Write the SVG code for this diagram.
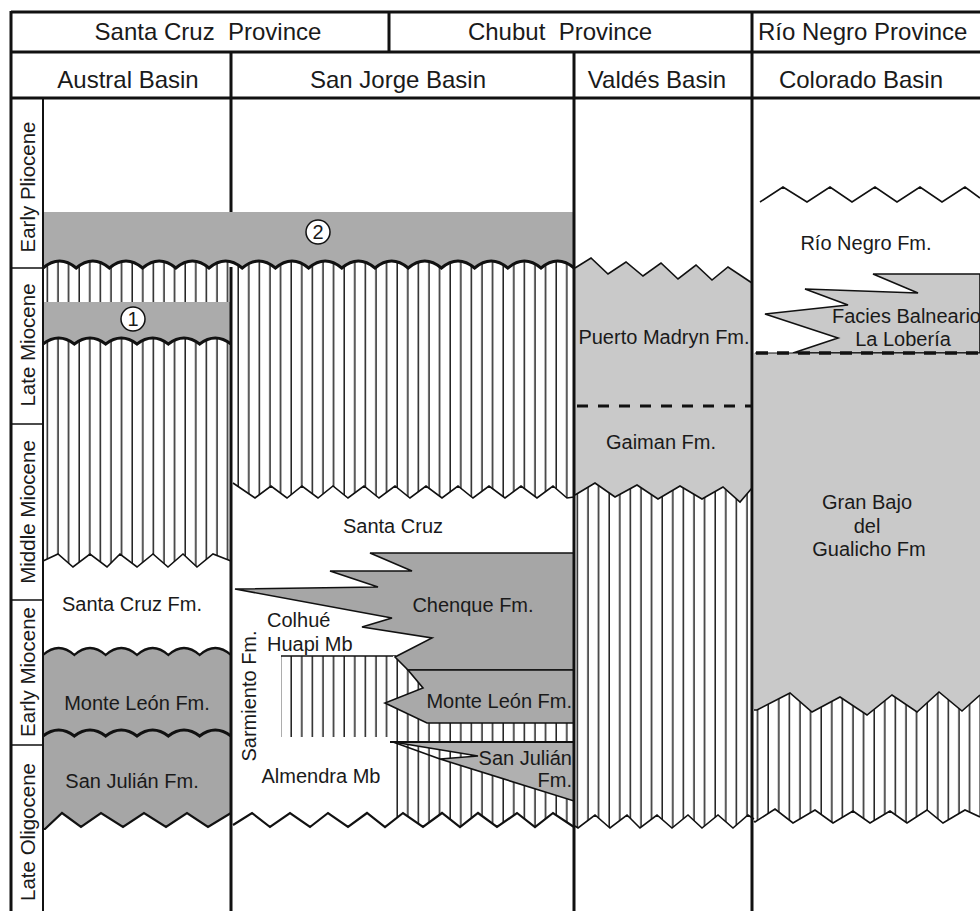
<svg xmlns="http://www.w3.org/2000/svg" width="980" height="911" viewBox="0 0 980 911">
<style>
.t{font-family:"Liberation Sans",Arial,sans-serif;font-size:20px;fill:#1a1a1a}
.h{font-size:24px}
.p{font-size:20.5px}
.ln{stroke:#111;fill:none}
.thick{stroke-width:3}
.med{stroke-width:2.2}
.thin{stroke-width:1.6}
.g1{fill:#ababab}
.g2{fill:#a6a6a6}
.g3{fill:#c9c9c9}
.hat{fill:url(#hatch)}
</style>
<defs>
<pattern id="hatch" patternUnits="userSpaceOnUse" width="10.6" height="20">
<rect width="10.6" height="20" fill="#fff"/>
<line x1="5" y1="0" x2="5" y2="20" stroke="#111" stroke-width="1.4"/>
</pattern>
</defs>
<rect width="980" height="911" fill="#fff"/>

<g id="austral">
<path class="hat" d="M43,255 L231,255 L231,561 L213,554 L197,567 L183,554 L168,567 L153,554 L137,567 L120,554 L107,567 L90,554 L73,567 L58,554 L43,561 Z"/>
<path class="ln thin" d="M43,561 L58,554 L73,567 L90,554 L107,567 L120,554 L137,567 L153,554 L168,567 L183,554 L197,567 L213,554 L231,561"/>
<path class="g1" d="M43,302 H231 V344 q-15.67,-12 -31.33,0 q-15.67,-12 -31.33,0 q-15.67,-12 -31.33,0 q-15.67,-12 -31.33,0 q-15.67,-12 -31.33,0 q-15.67,-12 -31.33,0 Z"/>
<path class="ln thick" d="M43,344 q15.67,-12 31.33,0 q15.67,-12 31.33,0 q15.67,-12 31.33,0 q15.67,-12 31.33,0 q15.67,-12 31.33,0 q15.67,-12 31.33,0"/>
<path class="g2" d="M43,655 q15.67,-14 31.33,0 q15.67,-14 31.33,0 q15.67,-14 31.33,0 q15.67,-14 31.33,0 q15.67,-14 31.33,0 q15.67,-14 31.33,0 L231,813 L208,827 L187,813 L166,827 L144,813 L123,827 L101,813 L81,827 L62,813 L45,829 L43,829 Z"/>
<path class="ln med" d="M43,655 q15.67,-14 31.33,0 q15.67,-14 31.33,0 q15.67,-14 31.33,0 q15.67,-14 31.33,0 q15.67,-14 31.33,0 q15.67,-14 31.33,0"/>
<path class="ln thick" d="M43,736 q15.67,-12 31.33,0 q15.67,-12 31.33,0 q15.67,-12 31.33,0 q15.67,-12 31.33,0 q15.67,-12 31.33,0 q15.67,-12 31.33,0"/>
<path class="ln med" d="M43,829 L45,829 L62,813 L81,827 L101,813 L123,827 L144,813 L166,827 L187,813 L208,827 L231,813"/>
</g>

<g id="sanjorge">
<path class="hat" d="M231,255 L574,255 L574,497 L567,498 L553,486 L537,498 L521,486 L505,498 L489,486 L473,498 L458,486 L442,498 L426,486 L410,498 L395,486 L379,498 L364,486 L348,498 L333,486 L318,498 L302,486 L287,498 L271,486 L255,498 L233,483 Z"/>
<path class="ln thin" d="M233,483 L255,498 L271,486 L287,498 L302,486 L318,498 L333,486 L348,498 L364,486 L379,498 L395,486 L410,498 L426,486 L442,498 L458,486 L473,498 L489,486 L505,498 L521,486 L537,498 L553,486 L567,498 L574,497"/>
<rect class="hat" x="281" y="656" width="114" height="81"/>
<path class="ln thin" d="M281,656 H396"/>
<path class="hat" d="M393,656 L574,656 L574,827 L553,813 L535,827 L517,813 L497,827 L478,813 L460,827 L442,813 L423,827 L403,813 L393,821 Z"/>
<path class="ln thin" style="fill:#a6a6a6" d="M574,553 L370,553 L412,571 L330,571 L378,587 L235,589 L392,618 L362,627 L432,638 L395,657 L408,670 L574,670 Z"/>
<path class="ln thin" style="fill:#a9a9a9" d="M574,670 L408,670 L423,688 L385,703 L427,723 L574,723 Z"/>
<path class="ln thin" style="fill:#b0b0b0" d="M393,742 L574,742 L574,801 L440,759 L478,756 Z"/>
<path class="ln thin" d="M393,742 L440,759"/>
<path class="ln med" d="M390,742 H574"/>
<path class="ln med" d="M233,825 L252,813 L270,827 L290,813 L310,827 L328,813 L348,827 L367,813 L385,827 L403,813 L423,827 L442,813 L460,827 L478,813 L497,827 L517,813 L535,827 L553,813 L574,827"/>
</g>

<g id="band2">
<path class="g1" d="M43,212 H574 V268 q-16.6,-14 -33.2,0 q-16.6,-14 -33.2,0 q-16.6,-14 -33.2,0 q-16.6,-14 -33.2,0 q-16.6,-14 -33.2,0 q-16.6,-14 -33.2,0 q-16.6,-14 -33.2,0 q-16.6,-14 -33.2,0 q-16.6,-14 -33.2,0 q-16.6,-14 -33.2,0 q-16.6,-14 -33.2,0 q-16.6,-14 -33.2,0 q-16.6,-14 -33.2,0 q-16.6,-14 -33.2,0 q-16.6,-14 -33.2,0 q-16.6,-14 -33.2,0 Z"/>
<path class="ln thick" d="M43,268 q16.6,-14 33.2,0 q16.6,-14 33.2,0 q16.6,-14 33.2,0 q16.6,-14 33.2,0 q16.6,-14 33.2,0 q16.6,-14 33.2,0 q16.6,-14 33.2,0 q16.6,-14 33.2,0 q16.6,-14 33.2,0 q16.6,-14 33.2,0 q16.6,-14 33.2,0 q16.6,-14 33.2,0 q16.6,-14 33.2,0 q16.6,-14 33.2,0 q16.6,-14 33.2,0 q16.6,-14 33.2,0"/>
<circle cx="318" cy="232" r="12" fill="#fff" stroke="#111" stroke-width="1.5"/>
<text class="t" x="318" y="239" text-anchor="middle">2</text>
<circle cx="133" cy="319" r="12" fill="#fff" stroke="#111" stroke-width="1.5"/>
<text class="t" x="133" y="326" text-anchor="middle">1</text>
</g>

<g id="valdes">
<path class="hat" d="M575,480 L752,480 L752,815 L748,815 L733,828 L718,815 L702,828 L688,815 L672,828 L657,815 L640,828 L627,815 L610,828 L595,815 L578,828 L575,826 Z"/>
<path class="ln thin" d="M575,826 L578,828 L595,815 L610,828 L627,815 L640,828 L657,815 L672,828 L688,815 L702,828 L718,815 L733,828 L748,815 L754,819"/>
<path class="g3" d="M575,268 L591,258 L608,274 L626,262 L643,276 L661,263 L678,279 L696,265 L712,280 L728,267 L752,283 L752,488 L740,502 L723,487 L702,499 L680,486 L658,499 L637,485 L615,497 L595,483 L575,495 Z"/>
<path class="ln thin" d="M575,268 L591,258 L608,274 L626,262 L643,276 L661,263 L678,279 L696,265 L712,280 L728,267 L752,283"/>
<path class="ln thin" d="M575,495 L595,483 L615,497 L637,485 L658,499 L680,486 L702,499 L723,487 L740,502 L752,488"/>
<path class="ln thick" stroke-dasharray="11 10" d="M577,406 H752"/>
</g>

<g id="colorado">
<path class="ln thin" d="M760,202 L783,187 L807,202 L830,187 L852,202 L875,187 L897,202 L920,187 L942,202 L965,187 L980,198"/>
<path class="ln thin" style="fill:#c9c9c9" d="M980,274 L873,274 L918,293 L805,289 L848,305 L765,314 L838,338 L793,353 L980,353 Z"/>
<path class="hat" d="M754,690 H980 V817 L965,810 L943,823 L927,810 L907,823 L890,811 L870,823 L853,811 L833,823 L815,810 L793,823 L775,809 L755,822 Z"/>
<path class="ln thin" d="M754,821 L755,822 L775,809 L793,823 L815,810 L833,823 L853,811 L870,823 L890,811 L907,823 L927,810 L943,823 L965,810 L980,817"/>
<path class="g3" d="M754,353 H980 V695 L962,711 L939,692 L917,712 L892,695 L867,715 L840,697 L812,712 L790,693 L757,710 L754,710 Z"/>
<path class="ln thin" d="M754,710 L757,710 L790,693 L812,712 L840,697 L867,715 L892,695 L917,712 L939,692 L962,711 L980,695"/>
<path class="ln" stroke-width="1" d="M755,353 H980"/>
<path class="ln" stroke-width="3.5" stroke-dasharray="12 9" d="M756,353 H980"/>
</g>

<g id="frame">
<path class="ln thick" d="M11,12 H980 M11,52 H980 M11,98 H980 M11,11 V911 M389,12 V52 M752,12 V911 M231,52 V212 M231,267 V911 M574,52 V911"/>
<path class="ln" stroke-width="2" d="M43,98 V911"/>
<path class="ln thin" d="M11,268 H43 M11,424 H43 M11,600 H43 M11,745 H43"/>
</g>

<g id="headers">
<text class="t h" x="208" y="40" text-anchor="middle" xml:space="preserve" style="white-space:pre">Santa Cruz  Province</text>
<text class="t h" x="560" y="40" text-anchor="middle" xml:space="preserve" style="white-space:pre">Chubut  Province</text>
<text class="t h" x="758" y="40">Río Negro Province</text>
<text class="t h" x="128" y="88" text-anchor="middle">Austral Basin</text>
<text class="t h" x="398" y="88" text-anchor="middle">San Jorge Basin</text>
<text class="t h" x="657" y="88" text-anchor="middle">Valdés Basin</text>
<text class="t h" x="861" y="88" text-anchor="middle">Colorado Basin</text>
</g>

<g id="periods">
<text class="t p" text-anchor="middle" transform="translate(35,187) rotate(-90)">Early Pliocene</text>
<text class="t p" text-anchor="middle" transform="translate(35,345) rotate(-90)">Late Miocene</text>
<text class="t p" text-anchor="middle" transform="translate(35,512) rotate(-90)">Middle Miocene</text>
<text class="t p" text-anchor="middle" transform="translate(35,672) rotate(-90)">Early Miocene</text>
<text class="t p" text-anchor="middle" transform="translate(35,832) rotate(-90)">Late Oligocene</text>
</g>

<g id="labels">
<text class="t" x="132" y="611" text-anchor="middle">Santa Cruz Fm.</text>
<text class="t" x="137" y="710" text-anchor="middle">Monte León Fm.</text>
<text class="t" x="132" y="788" text-anchor="middle">San Julián Fm.</text>
<text class="t" x="393" y="533" text-anchor="middle">Santa Cruz</text>
<text class="t" x="473" y="612" text-anchor="middle">Chenque Fm.</text>
<text class="t" x="267" y="627">Colhué</text>
<text class="t" x="267" y="651">Huapi Mb</text>
<text class="t" text-anchor="middle" transform="translate(256,696) rotate(-90)">Sarmiento Fm.</text>
<text class="t" x="321" y="783" text-anchor="middle">Almendra Mb</text>
<text class="t" x="572" y="708" text-anchor="end">Monte León Fm.</text>
<text class="t" x="572" y="765" text-anchor="end">San Julián</text>
<text class="t" x="572" y="787" text-anchor="end">Fm.</text>
<text class="t" x="664" y="344" text-anchor="middle">Puerto Madryn Fm.</text>
<text class="t" x="661" y="449" text-anchor="middle">Gaiman Fm.</text>
<text class="t" x="866" y="250" text-anchor="middle">Río Negro Fm.</text>
<text class="t" x="832" y="323">Facies Balneario</text>
<text class="t" x="903" y="346" text-anchor="middle">La Lobería</text>
<text class="t" x="867" y="509" text-anchor="middle">Gran Bajo</text>
<text class="t" x="867" y="533" text-anchor="middle">del</text>
<text class="t" x="869" y="556" text-anchor="middle">Gualicho Fm</text>
</g>
</svg>
